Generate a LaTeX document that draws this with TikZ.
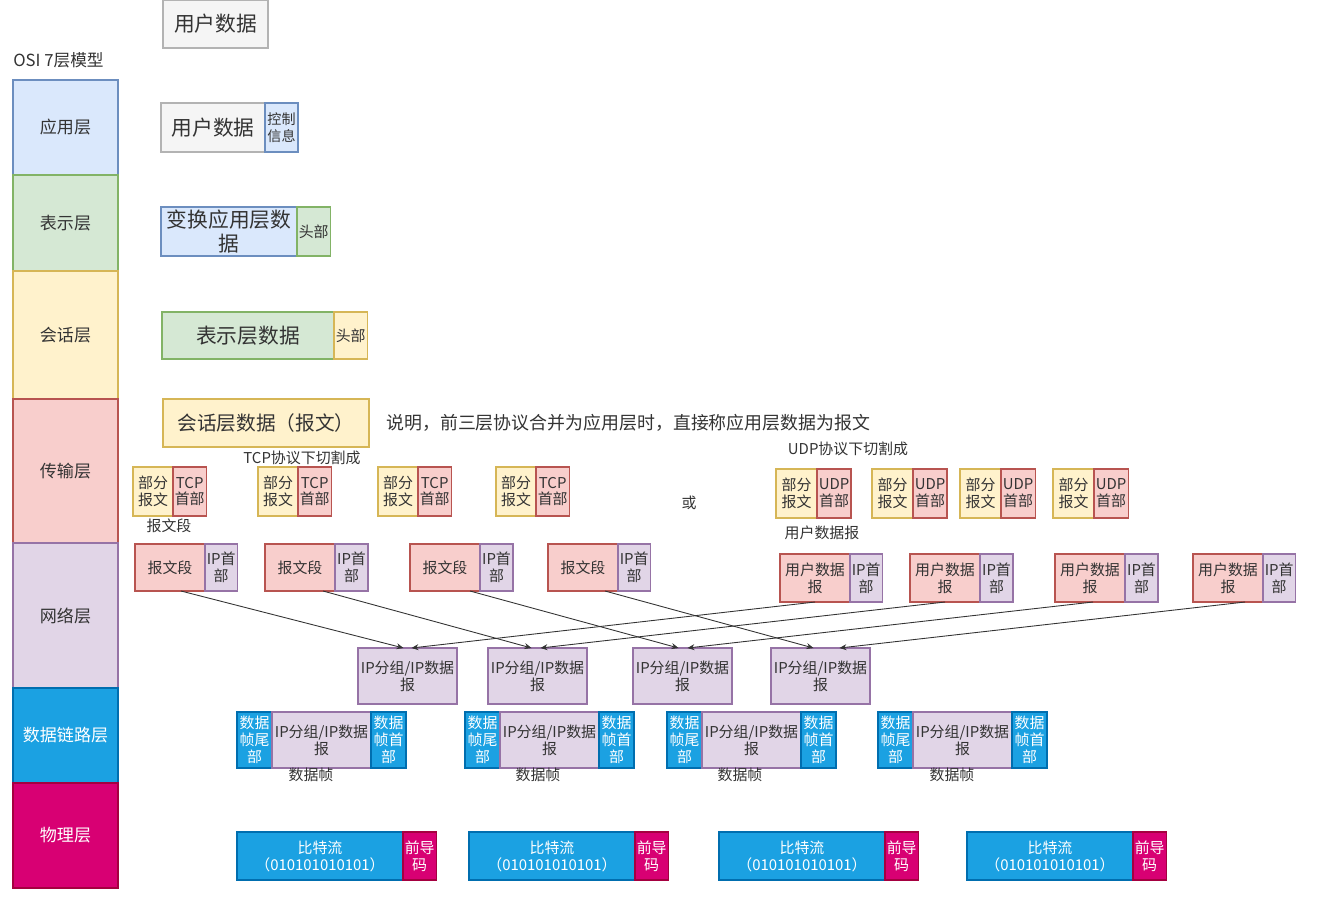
\documentclass[tikz,border=0pt]{standalone}
\usepackage{fontspec}
\setmainfont{Noto Sans CJK SC}
\usepackage{tikz}
\usetikzlibrary{arrows.meta, positioning}
\definecolor{appfill}{HTML}{DAE8FC}
\definecolor{appline}{HTML}{6C8EBF}
\definecolor{presfill}{HTML}{D5E8D4}
\definecolor{presline}{HTML}{82B366}
\definecolor{sessfill}{HTML}{FFF2CC}
\definecolor{sessline}{HTML}{D6B656}
\definecolor{transfill}{HTML}{F8CECC}
\definecolor{transline}{HTML}{B85450}
\definecolor{netfill}{HTML}{E1D5E7}
\definecolor{netline}{HTML}{9673A6}
\definecolor{linkfill}{HTML}{1BA1E2}
\definecolor{linkline}{HTML}{006EAF}
\definecolor{physfill}{HTML}{D80073}
\definecolor{physline}{HTML}{A50040}
\definecolor{userfill}{HTML}{F5F5F5}
\definecolor{userline}{HTML}{B3B3B3}
\definecolor{txtgray}{HTML}{333333}
\newlength\pxu
\setlength\pxu{0.02cm}

\begin{document}
\begin{tikzpicture}[
    x=0.02cm, y=-0.02cm,
    node distance=0pt,
    box/.style={rectangle, line width=0.6pt, inner sep=1pt, outer sep=0pt, align=center, text=txtgray},
    layer/.style={box, minimum width=105\pxu, font=\fontsize{9.7}{11}\selectfont},
    big/.style={box, font=\fontsize{11.8}{13.6}\selectfont},
    small/.style={box, font=\fontsize{8.5}{9.6}\selectfont},
    lbl/.style={inner sep=0pt, text=txtgray, font=\fontsize{8.5}{10}\selectfont},
    userc/.style={fill=userfill, draw=userline},
    appc/.style={fill=appfill, draw=appline},
    presc/.style={fill=presfill, draw=presline},
    sessc/.style={fill=sessfill, draw=sessline},
    transc/.style={fill=transfill, draw=transline},
    netc/.style={fill=netfill, draw=netline},
    linkc/.style={fill=linkfill, draw=linkline, text=white},
    physc/.style={fill=physfill, draw=physline, text=white},
    pkt/.style={-{Stealth[length=4pt,width=3.4pt]}, line width=0.5pt, draw=txtgray},
]
\fill[white] (0,0) rectangle (1317,903);
\useasboundingbox (0,0) rectangle (1317,903);

% OSI layers
\node[lbl, anchor=west, font=\fontsize{9.5}{11}\selectfont] (osi) at (13,60) {OSI 7层模型};
\node[layer, appc, anchor=north west, minimum height=95\pxu] (app) at (13,80) {应用层};
\node[layer, presc, minimum height=96\pxu, below=0pt of app] (pres) {表示层};
\node[layer, sessc, minimum height=128\pxu, below=0pt of pres] (sess) {会话层};
\node[layer, transc, minimum height=144\pxu, below=0pt of sess] (trans) {传输层};
\node[layer, netc, minimum height=145\pxu, below=0pt of trans] (net) {网络层};
\node[layer, linkc, minimum height=95\pxu, below=0pt of net] (link) {数据链路层};
\node[layer, physc, minimum height=105\pxu, below=0pt of link] (phys) {物理层};

% upper layers
\node[big, userc, anchor=north west, minimum width=105\pxu, minimum height=48\pxu] (ud0) at (163,0) {用户数据};
\node[big, userc, anchor=north west, minimum width=104\pxu, minimum height=49\pxu] (ud1) at (161,103) {用户数据};
\node[small, appc, minimum width=33\pxu, minimum height=49\pxu, right=0pt of ud1, font=\fontsize{8}{9.4}\selectfont] (ctl) {控制\\信息};
\node[big, appc, anchor=north west, minimum width=136\pxu, minimum height=49\pxu] (cvt) at (161,207) {变换应用层数\\据};
\node[small, presc, minimum width=33\pxu, minimum height=49\pxu, right=0pt of cvt] (hd1) {头部};
\node[big, presc, anchor=north west, minimum width=172\pxu, minimum height=47\pxu] (pd) at (162,312) {表示层数据};
\node[small, sessc, minimum width=33\pxu, minimum height=47\pxu, right=0pt of pd] (hd2) {头部};
\node[big, sessc, anchor=north west, minimum width=206\pxu, minimum height=48\pxu, font=\fontsize{11.2}{13}\selectfont] (sd) at (163,399) {会话层数据（报文）};
\node[lbl, anchor=west, font=\fontsize{10.2}{12}\selectfont] (note) at (386,423) {说明，前三层协议合并为应用层时，直接称应用层数据为报文};

% transport layer: TCP
\node[lbl] (tcpcut) at (302,458) {TCP协议下切割成};
\node[small, sessc, anchor=north west, minimum width=40\pxu, minimum height=49\pxu] (t1) at (133,467) {部分\\报文};
\node[small, transc, minimum width=33\pxu, minimum height=49\pxu, right=0pt of t1] (t1h) {TCP\\首部};
\node[small, sessc, anchor=north west, minimum width=40\pxu, minimum height=49\pxu] (t2) at (258,467) {部分\\报文};
\node[small, transc, minimum width=33\pxu, minimum height=49\pxu, right=0pt of t2] (t2h) {TCP\\首部};
\node[small, sessc, anchor=north west, minimum width=40\pxu, minimum height=49\pxu] (t3) at (378,467) {部分\\报文};
\node[small, transc, minimum width=33\pxu, minimum height=49\pxu, right=0pt of t3] (t3h) {TCP\\首部};
\node[small, sessc, anchor=north west, minimum width=40\pxu, minimum height=49\pxu] (t4) at (496,467) {部分\\报文};
\node[small, transc, minimum width=33\pxu, minimum height=49\pxu, right=0pt of t4] (t4h) {TCP\\首部};
\node[lbl] (seglbl) at (169,526) {报文段};
\node[lbl] (orlbl) at (689,503) {或};

% transport layer: UDP
\node[lbl] (udpcut) at (848,449) {UDP协议下切割成};
\node[small, sessc, anchor=north west, minimum width=41\pxu, minimum height=49\pxu] (u1) at (776,469) {部分\\报文};
\node[small, transc, minimum width=33\pxu, minimum height=49\pxu, right=0pt of u1] (u1h) {UDP\\首部};
\node[small, sessc, anchor=north west, minimum width=41\pxu, minimum height=49\pxu] (u2) at (872,469) {部分\\报文};
\node[small, transc, minimum width=33\pxu, minimum height=49\pxu, right=0pt of u2] (u2h) {UDP\\首部};
\node[small, sessc, anchor=north west, minimum width=41\pxu, minimum height=49\pxu] (u3) at (960,469) {部分\\报文};
\node[small, transc, minimum width=33\pxu, minimum height=49\pxu, right=0pt of u3] (u3h) {UDP\\首部};
\node[small, sessc, anchor=north west, minimum width=41\pxu, minimum height=49\pxu] (u4) at (1053,469) {部分\\报文};
\node[small, transc, minimum width=33\pxu, minimum height=49\pxu, right=0pt of u4] (u4h) {UDP\\首部};
\node[lbl] (dglbl) at (822,533) {用户数据报};

% network layer
\node[small, transc, anchor=north west, minimum width=70\pxu, minimum height=47\pxu] (s1) at (135,544) {报文段};
\node[small, netc, minimum width=32\pxu, minimum height=47\pxu, right=0pt of s1] (s1h) {IP首\\部};
\node[small, transc, anchor=north west, minimum width=70\pxu, minimum height=47\pxu] (s2) at (265,544) {报文段};
\node[small, netc, minimum width=33\pxu, minimum height=47\pxu, right=0pt of s2] (s2h) {IP首\\部};
\node[small, transc, anchor=north west, minimum width=70\pxu, minimum height=47\pxu] (s3) at (410,544) {报文段};
\node[small, netc, minimum width=33\pxu, minimum height=47\pxu, right=0pt of s3] (s3h) {IP首\\部};
\node[small, transc, anchor=north west, minimum width=70\pxu, minimum height=47\pxu] (s4) at (548,544) {报文段};
\node[small, netc, minimum width=32\pxu, minimum height=47\pxu, right=0pt of s4] (s4h) {IP首\\部};

\node[small, transc, anchor=north west, minimum width=70\pxu, minimum height=48\pxu] (d1) at (780,554) {用户数据\\报};
\node[small, netc, minimum width=32\pxu, minimum height=48\pxu, right=0pt of d1] (d1h) {IP首\\部};
\node[small, transc, anchor=north west, minimum width=70\pxu, minimum height=48\pxu] (d2) at (910,554) {用户数据\\报};
\node[small, netc, minimum width=33\pxu, minimum height=48\pxu, right=0pt of d2] (d2h) {IP首\\部};
\node[small, transc, anchor=north west, minimum width=70\pxu, minimum height=48\pxu] (d3) at (1055,554) {用户数据\\报};
\node[small, netc, minimum width=33\pxu, minimum height=48\pxu, right=0pt of d3] (d3h) {IP首\\部};
\node[small, transc, anchor=north west, minimum width=70\pxu, minimum height=48\pxu] (d4) at (1193,554) {用户数据\\报};
\node[small, netc, minimum width=32\pxu, minimum height=48\pxu, right=0pt of d4] (d4h) {IP首\\部};

\node[small, netc, anchor=north west, minimum width=99\pxu, minimum height=56\pxu] (p1) at (358,648) {IP分组/IP数据\\报};
\node[small, netc, anchor=north west, minimum width=99\pxu, minimum height=56\pxu] (p2) at (488,648) {IP分组/IP数据\\报};
\node[small, netc, anchor=north west, minimum width=99\pxu, minimum height=56\pxu] (p3) at (633,648) {IP分组/IP数据\\报};
\node[small, netc, anchor=north west, minimum width=99\pxu, minimum height=56\pxu] (p4) at (771,648) {IP分组/IP数据\\报};

\draw[pkt] ([xshift=11\pxu]s1.south) -- ([xshift=-4\pxu]p1.north);
\draw[pkt] ([xshift=23\pxu]s2.south) -- ([xshift=-6\pxu]p2.north);
\draw[pkt] ([xshift=25\pxu]s3.south) -- ([xshift=-4\pxu]p3.north);
\draw[pkt] ([xshift=22\pxu]s4.south) -- ([xshift=-7\pxu]p4.north);
\draw[pkt] (d1.south) -- ([xshift=4\pxu]p1.north);
\draw[pkt] (d2.south) -- ([xshift=3\pxu]p2.north);
\draw[pkt] ([xshift=3\pxu]d3.south) -- ([xshift=5\pxu]p3.north);
\draw[pkt] ([xshift=17\pxu]d4.south) -- ([xshift=19\pxu]p4.north);

% data link layer
\node[small, linkc, anchor=north west, minimum width=35\pxu, minimum height=56\pxu] (f1) at (237,712) {数据\\帧尾\\部};
\node[small, netc, minimum width=99\pxu, minimum height=56\pxu, right=0pt of f1] (f1m) {IP分组/IP数据\\报};
\node[small, linkc, minimum width=35\pxu, minimum height=56\pxu, right=0pt of f1m] (f1h) {数据\\帧首\\部};
\node[small, linkc, anchor=north west, minimum width=35\pxu, minimum height=56\pxu] (f2) at (465,712) {数据\\帧尾\\部};
\node[small, netc, minimum width=99\pxu, minimum height=56\pxu, right=0pt of f2] (f2m) {IP分组/IP数据\\报};
\node[small, linkc, minimum width=35\pxu, minimum height=56\pxu, right=0pt of f2m] (f2h) {数据\\帧首\\部};
\node[small, linkc, anchor=north west, minimum width=35\pxu, minimum height=56\pxu] (f3) at (667,712) {数据\\帧尾\\部};
\node[small, netc, minimum width=99\pxu, minimum height=56\pxu, right=0pt of f3] (f3m) {IP分组/IP数据\\报};
\node[small, linkc, minimum width=35\pxu, minimum height=56\pxu, right=0pt of f3m] (f3h) {数据\\帧首\\部};
\node[small, linkc, anchor=north west, minimum width=35\pxu, minimum height=56\pxu] (f4) at (878,712) {数据\\帧尾\\部};
\node[small, netc, minimum width=99\pxu, minimum height=56\pxu, right=0pt of f4] (f4m) {IP分组/IP数据\\报};
\node[small, linkc, minimum width=35\pxu, minimum height=56\pxu, right=0pt of f4m] (f4h) {数据\\帧首\\部};
\node[lbl] (fl1) at (311,775) {数据帧};
\node[lbl] (fl2) at (538,775) {数据帧};
\node[lbl] (fl3) at (740,775) {数据帧};
\node[lbl] (fl4) at (952,775) {数据帧};

% physical layer
\node[small, linkc, anchor=north west, minimum width=166\pxu, minimum height=48\pxu] (b1) at (237,832) {比特流\\（010101010101）};
\node[small, physc, minimum width=33\pxu, minimum height=48\pxu, right=0pt of b1] (b1h) {前导\\码};
\node[small, linkc, anchor=north west, minimum width=166\pxu, minimum height=48\pxu] (b2) at (469,832) {比特流\\（010101010101）};
\node[small, physc, minimum width=33\pxu, minimum height=48\pxu, right=0pt of b2] (b2h) {前导\\码};
\node[small, linkc, anchor=north west, minimum width=166\pxu, minimum height=48\pxu] (b3) at (719,832) {比特流\\（010101010101）};
\node[small, physc, minimum width=33\pxu, minimum height=48\pxu, right=0pt of b3] (b3h) {前导\\码};
\node[small, linkc, anchor=north west, minimum width=166\pxu, minimum height=48\pxu] (b4) at (967,832) {比特流\\（010101010101）};
\node[small, physc, minimum width=33\pxu, minimum height=48\pxu, right=0pt of b4] (b4h) {前导\\码};

\end{tikzpicture}
\end{document}
